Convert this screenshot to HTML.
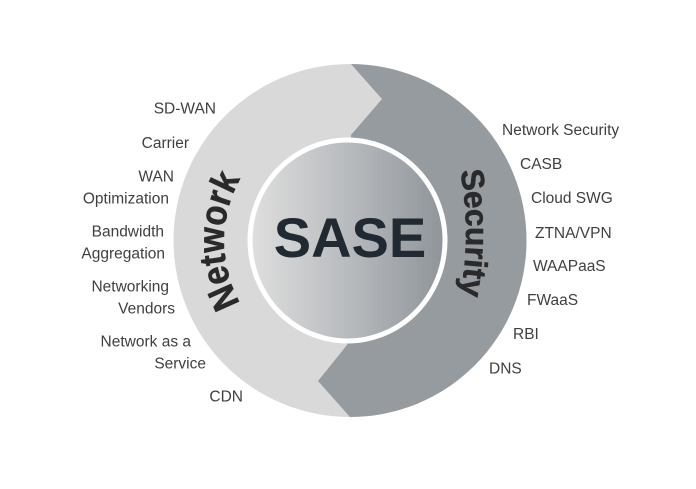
<!DOCTYPE html>
<html>
<head>
<meta charset="utf-8">
<style>
  html, body { margin: 0; padding: 0; background: #ffffff; }
  body { width: 696px; height: 489px; overflow: hidden; }
  svg { display: block; }
  .lbl { font-family: "Liberation Sans", Arial, sans-serif; font-size: 15.5px; fill: #3f3f3f; }
  .big { font-family: "Liberation Sans", Arial, sans-serif; font-weight: bold; fill: #2a2a2a; stroke: #2a2a2a; stroke-width: 0.6; }
</style>
</head>
<body>
<svg width="696" height="489" viewBox="0 0 696 489" xmlns="http://www.w3.org/2000/svg">
  <defs>
    <clipPath id="outer">
      <circle cx="350" cy="240.5" r="176.5"/>
    </clipPath>
    <linearGradient id="inner" x1="0" y1="0" x2="1" y2="0">
      <stop offset="0" stop-color="#dedede"/>
      <stop offset="0.5" stop-color="#b8bbbe"/>
      <stop offset="1" stop-color="#8f959a"/>
    </linearGradient>
    <path id="netPath" d="M 260.9 330.1 A 126 126 0 0 1 260.9 151.9"/>
    <path id="secPath" d="M 456 150 Q 476 233 456 316"/>
  </defs>

  <rect width="696" height="489" fill="#ffffff"/>

  <!-- outer ring -->
  <circle cx="350" cy="240.5" r="176.5" fill="#d9d9d9"/>
  <polygon clip-path="url(#outer)" fill="#969ba0"
    points="344.8,57 382,99 351,135 347,345 318,381 355.3,423 560,423 560,57"/>

  <!-- white ring + gradient center -->
  <ellipse cx="347.5" cy="240.5" rx="100" ry="103" fill="#ffffff"/>
  <ellipse cx="347.5" cy="240.5" rx="95" ry="98" fill="url(#inner)"/>

  <!-- SASE -->
  <text x="350" y="257" text-anchor="middle" font-family="Liberation Sans, Arial, sans-serif" font-weight="bold" font-size="56" fill="#212a32">SASE</text>

  <!-- Network / Security curved -->
  <text class="big" font-size="37">
    <textPath href="#netPath" startOffset="50%" text-anchor="middle" textLength="130" lengthAdjust="spacingAndGlyphs">Network</textPath>
  </text>
  <text class="big" font-size="32">
    <textPath href="#secPath" startOffset="50%" text-anchor="middle" textLength="125" lengthAdjust="spacingAndGlyphs">Security</textPath>
  </text>

  <!-- left labels -->
  <g class="lbl" text-anchor="end">
    <text x="216" y="113.5">SD-WAN</text>
    <text x="189" y="148">Carrier</text>
    <text x="174" y="181.5">WAN</text>
    <text x="169" y="203.5">Optimization</text>
    <text x="164" y="236.5">Bandwidth</text>
    <text x="165" y="258.5">Aggregation</text>
    <text x="169" y="291.5">Networking</text>
    <text x="175" y="313.5">Vendors</text>
    <text x="191" y="346.5">Network as a</text>
    <text x="206" y="368.5">Service</text>
    <text x="243" y="401.5">CDN</text>
  </g>

  <!-- right labels -->
  <g class="lbl" text-anchor="start">
    <text x="502" y="135">Network Security</text>
    <text x="520" y="169">CASB</text>
    <text x="531" y="203">Cloud SWG</text>
    <text x="535" y="238">ZTNA/VPN</text>
    <text x="533" y="271">WAAPaaS</text>
    <text x="527" y="305">FWaaS</text>
    <text x="513" y="339">RBI</text>
    <text x="489" y="373.5">DNS</text>
  </g>
</svg>
</body>
</html>
